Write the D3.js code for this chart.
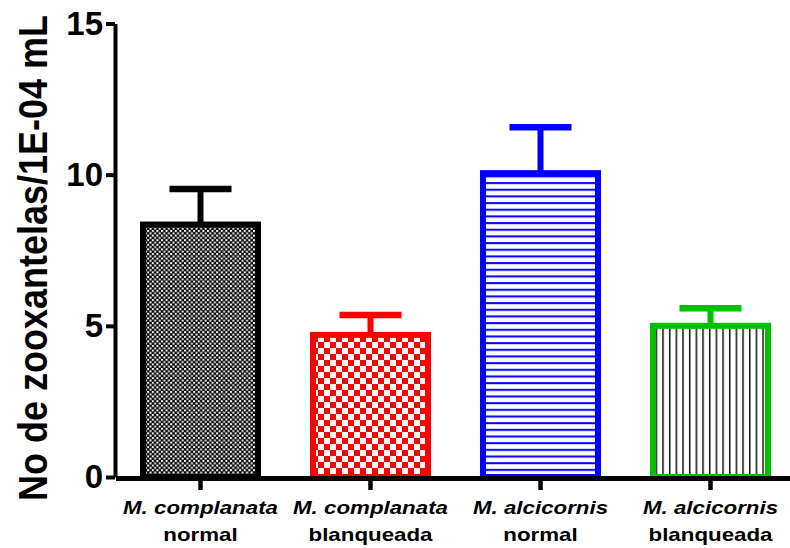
<!DOCTYPE html>
<html>
<head>
<meta charset="utf-8">
<script src="https://cdn.jsdelivr.net/npm/d3@7"></script>
<style>
  body { margin: 0; background: #fff; }
  text { font-family: "Liberation Sans", Arial, sans-serif; font-weight: bold; }
</style>
</head>
<body>
<div id="chart"></div>
<script>
// chart values
const species = ["M. complanata", "M. complanata", "M. alcicornis", "M. alcicornis"]
const states = ["normal", "blanqueada", "normal", "blanqueada"]
const means = [8.35, 4.70, 10.05, 5.0]
const sems = [1.18, 0.66, 1.52, 0.58]
const yTicks = [0, 5, 10, 15]
const categories = species.map((s, i) => s + " " + states[i])

// bar styles
const strokeColors = ["#000000", "#ff0000", "#0000ff", "#00c000"]
const fills = ["url(#checkBlack)", "url(#checkRed)", "url(#linesBlue)", "url(#linesBlack)"]

let svg = d3.select("#chart")
  .append("svg")
  .attr("width", 790)
  .attr("height", 548)

let y = d3.scaleLinear().domain([0, 15]).range([477, 23.5])
let x = d3.scaleBand().domain(categories).range([115.5, 795.5]).paddingInner(0.3235).paddingOuter(0.16175)

// fill patterns
let defs = svg.append("defs")
let p1 = defs.append("pattern").attr("id", "checkBlack").attr("patternUnits", "userSpaceOnUse").attr("width", 4.6).attr("height", 4.6)
p1.append("rect").attr("width", 4.6).attr("height", 4.6).style("fill", "#000")
p1.append("rect").attr("width", 2).attr("height", 2).style("fill", "#fff")
p1.append("rect").attr("x", 2.3).attr("y", 2.3).attr("width", 2).attr("height", 2).style("fill", "#fff")

let p2 = defs.append("pattern").attr("id", "checkRed").attr("patternUnits", "userSpaceOnUse").attr("width", 12).attr("height", 12)
p2.append("rect").attr("width", 12).attr("height", 12).style("fill", "#fff")
p2.append("rect").attr("width", 6).attr("height", 6).style("fill", "#ff0000")
p2.append("rect").attr("x", 6).attr("y", 6).attr("width", 6).attr("height", 6).style("fill", "#ff0000")

let p3 = defs.append("pattern").attr("id", "linesBlue").attr("patternUnits", "userSpaceOnUse").attr("width", 10).attr("height", 6.67)
p3.append("rect").attr("width", 10).attr("height", 6.67).style("fill", "#fff")
p3.append("rect").attr("y", 2).attr("width", 10).attr("height", 2).style("fill", "#0000ff")

let p4 = defs.append("pattern").attr("id", "linesBlack").attr("patternUnits", "userSpaceOnUse").attr("width", 6.67).attr("height", 10)
p4.append("rect").attr("width", 6.67).attr("height", 10).style("fill", "#fff")
p4.append("rect").attr("x", 2).attr("width", 1.4).attr("height", 10).style("fill", "#000")

// error bars (behind bars)
let err = svg.append("g")
categories.forEach((c, i) => {
  let cx = x(c) + x.bandwidth() / 2
  err.append("line").attr("x1", cx).attr("x2", cx).attr("y1", y(means[i])).attr("y2", y(means[i] + sems[i]))
    .style("stroke", strokeColors[i]).style("stroke-width", 6)
  err.append("line").attr("x1", cx - 31).attr("x2", cx + 31).attr("y1", y(means[i] + sems[i])).attr("y2", y(means[i] + sems[i]))
    .style("stroke", strokeColors[i]).style("stroke-width", 6.5)
})

// bars
svg.append("g").selectAll("rect")
  .data(categories)
  .join("rect")
  .attr("x", d => x(d))
  .attr("y", (d, i) => y(means[i]))
  .attr("width", x.bandwidth())
  .attr("height", (d, i) => y(0) - y(means[i]))
  .style("fill", (d, i) => fills[i])
  .style("stroke", (d, i) => strokeColors[i])
  .style("stroke-width", 6)

// x axis
let xAxis = svg.append("g")
  .attr("transform", "translate(0,478)")
  .call(d3.axisBottom(x).tickSize(12).tickSizeOuter(0).tickFormat(""))
xAxis.select(".domain").style("stroke", "#000").style("stroke-width", 5)
xAxis.selectAll(".tick line").style("stroke", "#000").style("stroke-width", 4.5)

// y axis
let yAxis = svg.append("g")
  .attr("transform", "translate(115,0)")
  .call(d3.axisLeft(y).tickValues(yTicks).tickSize(9).tickSizeOuter(0).tickPadding(3))
yAxis.select(".domain").style("stroke", "#000").style("stroke-width", 4)
yAxis.selectAll(".tick line").style("stroke", "#000").style("stroke-width", 4)
yAxis.selectAll(".tick text").style("font-size", "33px").style("font-family", "'Liberation Sans', Arial, sans-serif").style("font-weight", "bold").style("fill", "#000")

// category labels
categories.forEach((c, i) => {
  let cx = x(c) + x.bandwidth() / 2
  svg.append("text").attr("transform", "translate(" + cx + ",514) scale(1.24,1)")
    .attr("text-anchor", "middle").style("font-size", "18px").style("font-style", "italic").text(species[i])
  svg.append("text").attr("transform", "translate(" + cx + ",541) scale(1.24,1)")
    .attr("text-anchor", "middle").style("font-size", "18px").text(states[i])
})

// y axis title
svg.append("text")
  .attr("transform", "translate(47,258) rotate(-90) scale(1,1.15)")
  .attr("text-anchor", "middle")
  .style("font-size", "36px")
  .text("No de zooxantelas/1E-04 mL")
</script>
</body>
</html>
